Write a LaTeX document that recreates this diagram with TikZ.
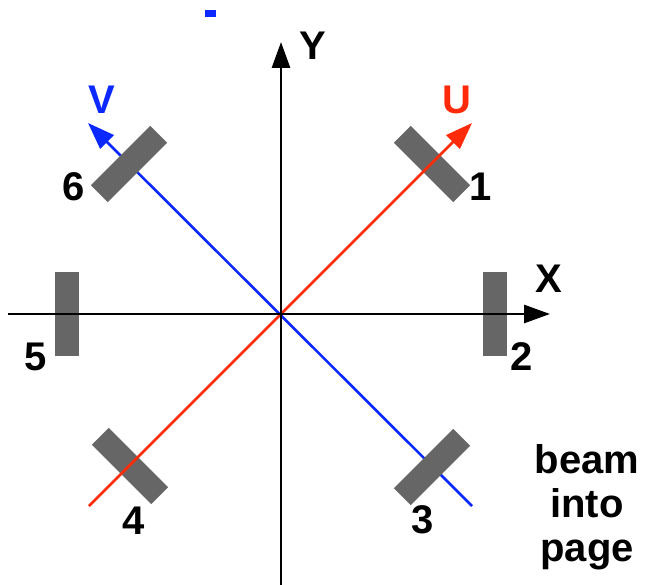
\documentclass[tikz,border=0pt]{standalone}
\usepackage{fontspec}
\setmainfont{Liberation Sans}
\usetikzlibrary{arrows.meta}
\definecolor{ublue}{HTML}{0A28FF}
\definecolor{ured}{HTML}{FF2A0A}
\definecolor{bargray}{HTML}{666666}
\tikzset{
  bar/.style={fill=bargray, inner sep=0pt, minimum width=84pt, minimum height=24pt},
  vbar/.style={fill=bargray, inner sep=0pt, minimum width=24pt, minimum height=84pt},
  axis/.style={line width=2.8pt, -{Triangle[length=26pt,width=18pt]}},
  uaxis/.style={line width=2.6pt, ured, -{Triangle[length=27pt,width=19pt]}},
  vaxis/.style={line width=2.6pt, ublue, -{Triangle[length=27pt,width=19pt]}},
  lbl/.style={inner sep=0pt, font=\fontsize{40}{44}\selectfont\bfseries}
}
\begin{document}
\begin{tikzpicture}[x=1pt,y=-1pt]
\useasboundingbox (0,0) rectangle (645,585);
% coordinates
\coordinate (O) at (281,314);
\coordinate (ybot) at (281,585);
\coordinate (ytop) at (281,42);
\coordinate (xl) at (8,314);
\coordinate (xr) at (550,314);
\coordinate (ustart) at (89,506);
\coordinate (uend) at (472,123);
\coordinate (vstart) at (472,506);
\coordinate (vend) at (88,123);
% stray mark
\fill[ublue] (205,10) rectangle (216,17);
% blue axis under bars
\draw[vaxis] (vstart) -- (vend);
% bars
\node[bar, rotate=-45] (b1) at (432,164) {};
\node[vbar] (b2) at (495,314) {};
\node[bar, rotate=45] (b3) at (432,467) {};
\node[bar, rotate=-45] (b4) at (130,466) {};
\node[vbar] (b5) at (66.5,314) {};
\node[bar, rotate=45] (b6) at (129,164) {};
% red axis over bars
\draw[uaxis] (ustart) -- (uend);
% black axes
\draw[axis] (ybot) -- (ytop);
\draw[axis] (xl) -- (xr);
% labels
\node[lbl] (ly) at (313,46) {Y};
\node[lbl] (lx) at (549,279) {X};
\node[lbl, text=ublue] (lv) at (101.5,100) {V};
\node[lbl, text=ured] (lu) at (456.5,100) {U};
\node[lbl] (l6) at (74,187) {6};
\node[lbl] (l1) at (481,187) {1};
\node[lbl] (l5) at (36,357) {5};
\node[lbl] (l2) at (522,357) {2};
\node[lbl] (l4) at (134,521) {4};
\node[lbl] (l3) at (423,520) {3};
\node[lbl, align=center] (beam) at (587,507) {beam\\into\\page};
\end{tikzpicture}
\end{document}
